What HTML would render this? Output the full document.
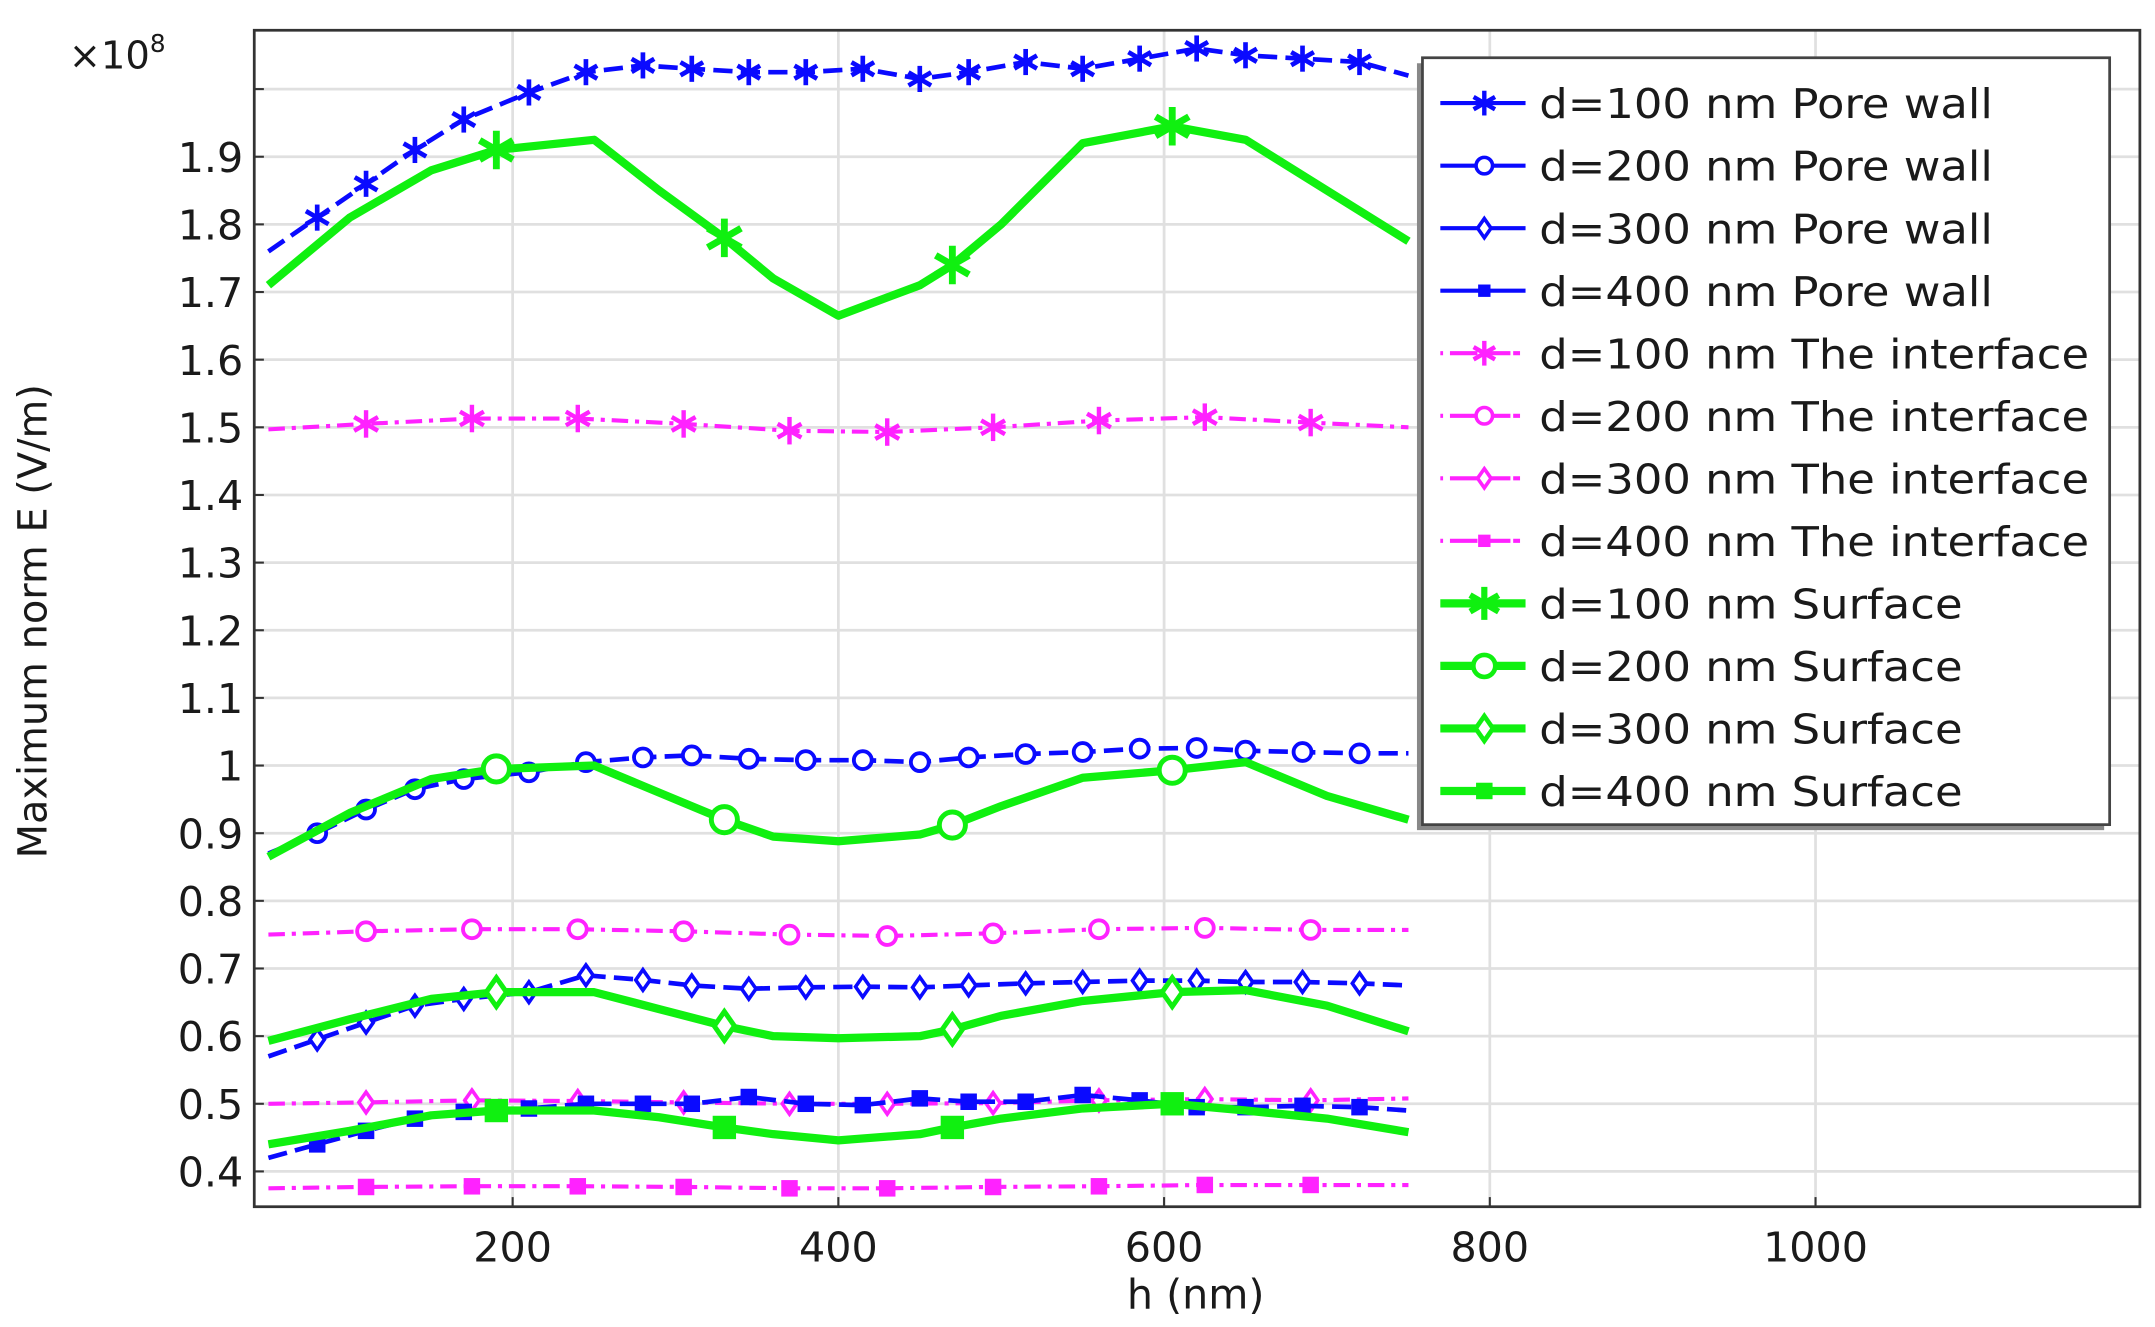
<!DOCTYPE html>
<html><head><meta charset="utf-8"><style>
html,body{margin:0;padding:0;background:#fff;}
svg{display:block;}
text{font-family:"DejaVu Sans","Liberation Sans",sans-serif;fill:#1a1a1a;}
</style></head><body>
<svg id="s" width="2155" height="1327" viewBox="0 0 1568 965.5" xmlns="http://www.w3.org/2000/svg">
<rect width="1568" height="966" fill="#fff"/>
<g id="grid"></g>
<g id="series"></g>
<rect x="185" y="22" width="1372" height="856" fill="none" stroke="#333" stroke-width="2"/>
<g id="labels"></g>
<g id="legend"></g>
</svg>
<script>
const NS="http://www.w3.org/2000/svg";
const X=h=>373+(h-200)*1.185, Y=v=>557-(v-1)*492.2;
function el(t,a,p,txt){const e=document.createElementNS(NS,t);for(const k in a)e.setAttribute(k,a[k]);if(txt!==undefined)e.textContent=txt;p.appendChild(e);return e;}
const g=document.getElementById('grid'),L=document.getElementById('labels'),S=document.getElementById('series'),G=document.getElementById('legend');
for(let v=4;v<=20;v++){const y=Y(v/10);el('line',{x1:185,x2:1557,y1:y,y2:y,stroke:'#e0e0e0','stroke-width':2},g);el('line',{x1:185,x2:192,y1:y,y2:y,stroke:'#333','stroke-width':1.5},g);
 if(v<=19)el('text',{x:177,y:y+11,'text-anchor':'end','font-size':30},L,v==10?'1':(v/10).toFixed(1));}
for(let h=200;h<=1000;h+=200){const x=X(h);el('line',{x1:x,x2:x,y1:22,y2:878,stroke:'#e0e0e0','stroke-width':2},g);el('line',{x1:x,x2:x,y1:871,y2:878,stroke:'#333','stroke-width':1.5},g);el('text',{x:x,y:918,'text-anchor':'middle','font-size':30},L,h);}
el('text',{x:870,y:952,'text-anchor':'middle','font-size':30},L,'h (nm)');
el('text',{x:0,y:0,'text-anchor':'middle','font-size':29,transform:'translate(34,452) rotate(-90)'},L,'Maximum norm E (V/m)');
const t=el('text',{x:50,y:50,'font-size':28},L,'×10');el('tspan',{dy:-12,'font-size':18},t,'8');
const B='#0a0aff',M='#ff22ff',Gr='#10f010';
const IH=[50,110,175,240,305,370,430,495,560,625,690,750];
const PH=[50,80,110,140,170,210,245,280,310,345,380,415,450,480,515,550,585,620,650,685,720,750];
const SH=[50,100,150,190,250,290,330,360,400,450,470,500,550,605,650,700,750];
function mk(p,type,x,y,c,sz,thick){
 if(type=='ast'){for(const a of [0,60,120]){const r=a*Math.PI/180;el('line',{x1:x-sz*Math.sin(r),y1:y-sz*Math.cos(r),x2:x+sz*Math.sin(r),y2:y+sz*Math.cos(r),stroke:c,'stroke-width':thick},p);}}
 else if(type=='circ')el('circle',{cx:x,cy:y,r:sz,fill:'#fff',stroke:c,'stroke-width':thick},p);
 else if(type=='dia')el('path',{d:`M${x} ${y-sz}L${x+sz*0.7} ${y}L${x} ${y+sz}L${x-sz*0.7} ${y}Z`,fill:'#fff',stroke:c,'stroke-width':thick},p);
 else if(type=='sq')el('rect',{x:x-sz,y:y-sz,width:2*sz,height:2*sz,fill:c},p);
}
function series(hs,vs,c,w,dash,type,mIdx,sz,mt){
 const d=hs.map((h,i)=>(i?'L':'M')+X(h).toFixed(1)+' '+Y(vs[i]).toFixed(1)).join('');
 const a={d:d,fill:'none',stroke:c,'stroke-width':w,'stroke-linejoin':'round'};if(dash)a['stroke-dasharray']=dash;el('path',a,S);
 mIdx.forEach(i=>mk(S,type,X(hs[i]),Y(vs[i]),c,sz,mt));
}
const pm=[...Array(20).keys()].map(i=>i+1);
const im=[1,2,3,4,5,6,7,8,9,10];
const BD='14 6',MD='12 5 3 5';
series(IH,[1.497,1.505,1.513,1.513,1.505,1.495,1.493,1.50,1.51,1.515,1.507,1.50],M,3,MD,'ast',im,10,3.2);
series(IH,[0.75,0.755,0.758,0.758,0.755,0.75,0.748,0.752,0.758,0.76,0.757,0.757],M,3,MD,'circ',im,6.5,2.8);
series(IH,[0.5,0.502,0.505,0.504,0.502,0.5,0.5,0.501,0.505,0.507,0.505,0.508],M,3,MD,'dia',im,7.5,2.6);
series(IH,[0.375,0.377,0.378,0.378,0.377,0.375,0.375,0.377,0.378,0.38,0.38,0.38],M,3,MD,'sq',im,6,0);
series(PH,[1.76,1.81,1.86,1.91,1.955,1.995,2.025,2.035,2.03,2.025,2.025,2.03,2.015,2.025,2.04,2.03,2.045,2.06,2.05,2.045,2.04,2.02],B,3.4,BD,'ast',pm,9.5,3.4);
series(PH,[0.87,0.90,0.935,0.965,0.98,0.99,1.005,1.012,1.015,1.01,1.008,1.008,1.005,1.012,1.017,1.02,1.025,1.026,1.022,1.02,1.018,1.018],B,3.4,BD,'circ',pm,6.5,2.8);
series(PH,[0.57,0.595,0.62,0.645,0.655,0.665,0.69,0.683,0.675,0.67,0.672,0.673,0.672,0.675,0.678,0.68,0.682,0.682,0.68,0.68,0.678,0.675],B,3.4,BD,'dia',pm,7.5,2.6);
series(PH,[0.42,0.44,0.46,0.478,0.488,0.493,0.5,0.5,0.5,0.51,0.5,0.498,0.508,0.503,0.503,0.513,0.505,0.495,0.495,0.497,0.495,0.49],B,3.4,BD,'sq',pm,6,0);
series(SH,[1.71,1.81,1.88,1.91,1.925,1.85,1.78,1.72,1.665,1.71,1.74,1.80,1.92,1.945,1.925,1.85,1.775],Gr,6,null,'ast',[3,6,10,13],14,5);
series(SH,[0.865,0.93,0.98,0.995,1.0,0.96,0.92,0.895,0.888,0.898,0.912,0.94,0.982,0.993,1.005,0.955,0.92],Gr,6,null,'circ',[3,6,10,13],9.5,3.6);
series(SH,[0.593,0.625,0.655,0.665,0.665,0.64,0.615,0.6,0.597,0.6,0.61,0.63,0.652,0.665,0.668,0.645,0.607],Gr,6,null,'dia',[3,6,10,13],10.5,3.6);
series(SH,[0.44,0.46,0.483,0.49,0.49,0.48,0.465,0.455,0.446,0.455,0.465,0.478,0.493,0.5,0.49,0.478,0.458],Gr,6,null,'sq',[3,6,10,13],8.5,0);
el('rect',{x:1031,y:46,width:500,height:558,fill:'#888'},G);
el('rect',{x:1035,y:42,width:500,height:558,fill:'#fff',stroke:'#444','stroke-width':2},G);
const items=[['d=100 nm Pore wall',B,'ast'],['d=200 nm Pore wall',B,'circ'],['d=300 nm Pore wall',B,'dia'],['d=400 nm Pore wall',B,'sq'],
['d=100 nm The interface',M,'ast'],['d=200 nm The interface',M,'circ'],['d=300 nm The interface',M,'dia'],['d=400 nm The interface',M,'sq'],
['d=100 nm Surface',Gr,'ast'],['d=200 nm Surface',Gr,'circ'],['d=300 nm Surface',Gr,'dia'],['d=400 nm Surface',Gr,'sq']];
items.forEach((it,i)=>{const y=75+i*45.5;const isG=i>=8,isM=i>=4&&i<8;
 const a={x1:1048,x2:1110,y1:y,y2:y,stroke:it[1],'stroke-width':isG?6:3};if(isM)a['stroke-dasharray']='2 5 20 8 16';el('line',a,G);
 if(isG)mk(G,it[2],1080,y,it[1],it[2]=='ast'?12:it[2]=='sq'?6:it[2]=='dia'?9:8,it[2]=='ast'?4.5:3.4);
 else mk(G,it[2],1080,y,it[1],it[2]=='ast'?9:it[2]=='sq'?4.5:it[2]=='dia'?7:6,it[2]=='ast'?3.2:2.6);
 const w=isM?400:isG?308:330;
 el('text',{x:1120,y:y+11,'font-size':30,textLength:w,lengthAdjust:'spacingAndGlyphs'},G,it[0]);
});
</script>
</body></html>
